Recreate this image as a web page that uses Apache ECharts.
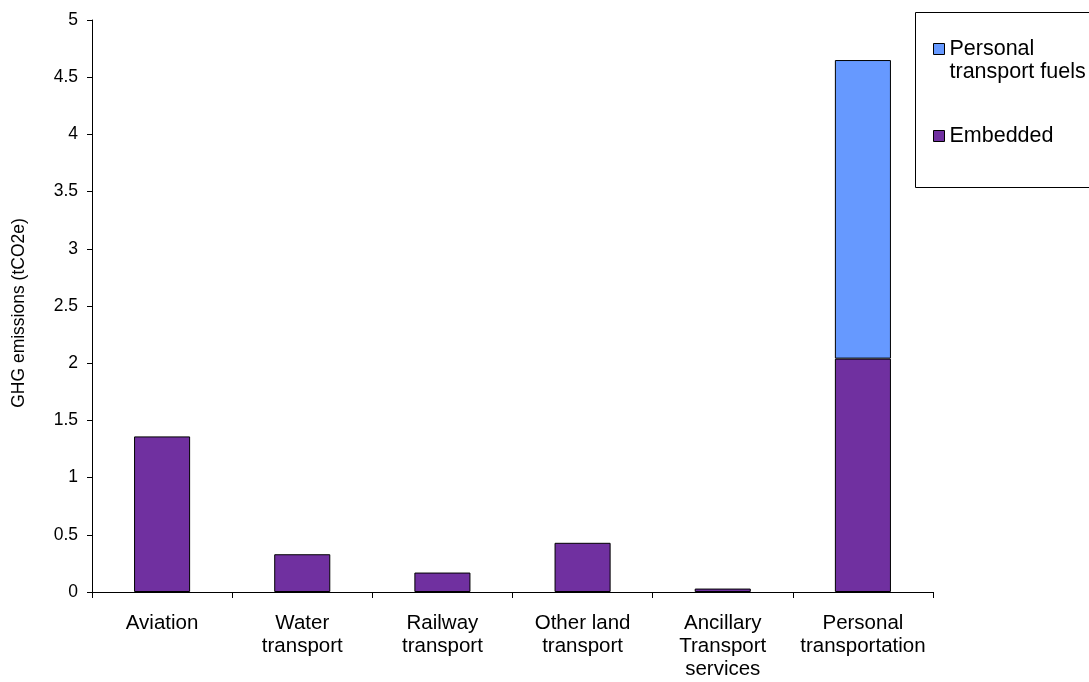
<!DOCTYPE html>
<html>
<head>
<meta charset="utf-8">
<script src="https://cdn.jsdelivr.net/npm/echarts@6/dist/echarts.min.js"></script>
<style>
  html, body { margin: 0; padding: 0; background: #fff; }
  #chart { width: 1089px; height: 682px; }
</style>
</head>
<body>
<div id="chart"></div>
<script>
// Transport categories (x axis)
const categories = [
  'Aviation',
  'Water\ntransport',
  'Railway\ntransport',
  'Other land\ntransport',
  'Ancillary\nTransport\nservices',
  'Personal\ntransportation'
];

// Emissions in tCO2e
const embedded = [1.36, 0.33, 0.17, 0.43, 0.03, 2.04];
const personalFuels = [0, 0, 0, 0, 0, 2.61];

const seriesNames = ['Embedded', 'Personal transport fuels'];

const font = '"Liberation Sans", Arial, sans-serif';

const legendBase = {
  orient: 'vertical',
  left: 933,
  padding: 0,
  itemWidth: 11,
  itemHeight: 11,
  itemGap: 0,
  icon: 'rect',
  itemStyle: { borderColor: '#000', borderWidth: 1 }
};

const chart = echarts.init(document.getElementById('chart'), null, { renderer: 'canvas' });

chart.setOption({
  animation: false,
  backgroundColor: '#ffffff',
  grid: { left: 92, right: 156, top: 20, bottom: 90, containLabel: false },
  graphic: [{
    type: 'rect',
    shape: { x: 915.5, y: 12.5, width: 200, height: 175 },
    style: { fill: '#ffffff', stroke: '#000000', lineWidth: 1 },
    z: 0
  }],
  legend: [
    Object.assign({}, legendBase, {
      top: 14.5,
      data: [seriesNames[1]],
      // leading blank line keeps the marker level with the first text line
      formatter: () => '\nPersonal\ntransport fuels',
      textStyle: { fontFamily: font, fontSize: 21.5, color: '#000', lineHeight: 23 }
    }),
    Object.assign({}, legendBase, {
      top: 124.5,
      data: [seriesNames[0]],
      textStyle: { fontFamily: font, fontSize: 21.5, color: '#000', lineHeight: 23 }
    })
  ],
  xAxis: {
    type: 'category',
    data: categories,
    axisLine: { lineStyle: { color: '#000', width: 1 } },
    axisTick: { show: true, alignWithLabel: false, length: 6, lineStyle: { color: '#000' } },
    axisLabel: {
      fontFamily: font, fontSize: 20.5, color: '#000', margin: 20, lineHeight: 23,
      interval: 0, align: 'center'
    },
    splitLine: { show: false }
  },
  yAxis: {
    type: 'value',
    min: 0,
    max: 5,
    interval: 0.5,
    name: 'GHG emissions (tCO2e)',
    nameLocation: 'middle',
    nameGap: 64,
    nameRotate: 90,
    nameTextStyle: { fontFamily: font, fontSize: 17.5, color: '#000', padding: [0, 14, 0, 0] },
    axisLine: { show: true, lineStyle: { color: '#000', width: 1 } },
    axisTick: { show: true, length: 5, lineStyle: { color: '#000' } },
    axisLabel: { fontFamily: font, fontSize: 17.5, color: '#000', margin: 14 },
    splitLine: { show: false }
  },
  series: [
    {
      name: seriesNames[0],
      type: 'bar',
      stack: 'total',
      data: embedded,
      barWidth: '40%',
      itemStyle: { color: '#7030A0', borderColor: '#000', borderWidth: 1 }
    },
    {
      name: seriesNames[1],
      type: 'bar',
      stack: 'total',
      data: personalFuels.map(v => v === 0 ? '-' : v),
      barWidth: '40%',
      itemStyle: { color: '#6699FF', borderColor: '#000', borderWidth: 1 }
    }
  ]
});
</script>
</body>
</html>
